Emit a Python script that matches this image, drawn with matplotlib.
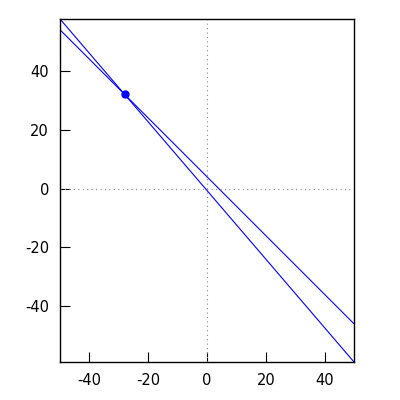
import numpy as np
import matplotlib
matplotlib.use("Agg")
import matplotlib.pyplot as plt

plt.rcParams['axes.unicode_minus'] = False

# system: a*x + b*y = c
coef_a = [1, 7]
coef_b = [1, 6]
coef_c = [4, -4]
x_range = [-50, 50]
solution = (-28, 32)
x_ticks = [-40, -20, 0, 20, 40]
y_ticks = [-40, -20, 0, 20, 40]

fig = plt.figure(figsize=(4, 4), dpi=100)
ax = fig.add_axes([0.15, 0.095, 0.735, 0.8575])

xs = np.array(x_range, dtype=float)
ys_all = []
for a, b, c in zip(coef_a, coef_b, coef_c):
    ys = (c - a * xs) / b
    ys_all.extend(ys)
    ax.plot(xs, ys, color='blue', lw=0.8)

ax.plot(*solution, 'o', color='blue', ms=5)

ax.axhline(0, color='#888888', lw=0.8, ls=(0, (1, 3)))
ax.axvline(0, color='#888888', lw=0.8, ls=(0, (1, 3)))

ax.set_xlim(x_range)
ax.set_ylim(min(ys_all), max(ys_all))
ax.set_xticks(x_ticks)
ax.set_yticks(y_ticks)
ax.tick_params(direction='in', length=7, width=0.8, labelsize=10.5, pad=8)
for s in ax.spines.values():
    s.set_linewidth(1.0)

fig.savefig("out.png", dpi=100)
